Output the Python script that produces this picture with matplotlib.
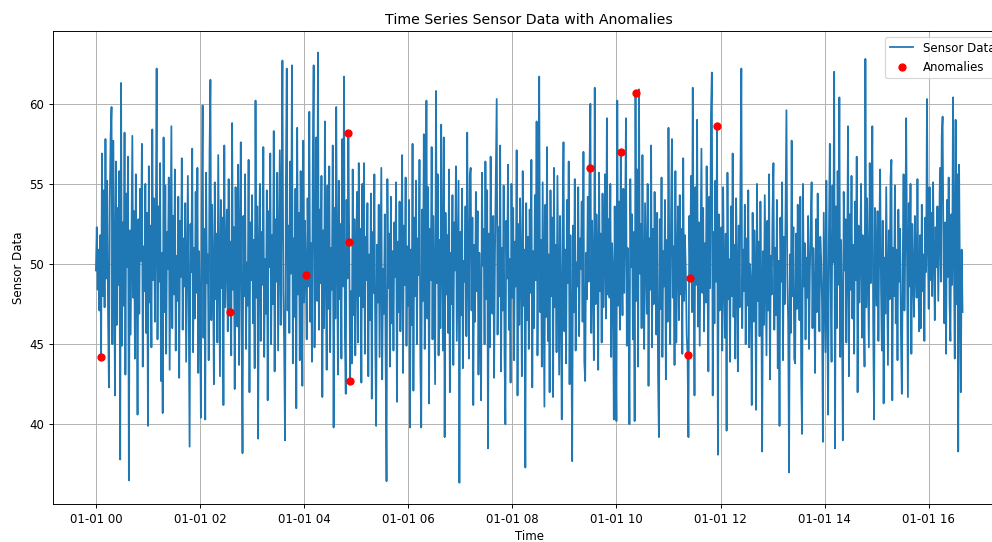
import matplotlib
matplotlib.use("Agg")
import matplotlib.pyplot as plt
import pandas as pd

# one reading per minute
sensor_values = [
    49.6, 52.3, 48.4, 50.9, 47.1, 51.8, 44.2, 56.9, 48.0, 54.6,
    47.3, 57.8, 49.1, 55.2, 46.8, 42.3, 53.9, 58.1, 59.8, 45.0,
    57.7, 50.3, 41.8, 56.4, 46.2, 53.5, 48.7, 55.8, 37.8, 61.3,
    44.9, 52.6, 47.4, 58.2, 43.1, 54.4, 49.8, 56.7, 36.5, 52.1,
    45.6, 51.5, 58.0, 47.9, 53.3, 44.1, 55.6, 49.4, 40.6, 52.8,
    46.9, 54.7, 50.2, 57.5, 43.6, 51.1, 48.3, 55.0, 45.7, 53.2,
    39.9, 56.1, 47.6, 52.4, 44.8, 58.4, 49.0, 54.1, 46.4, 51.7,
    62.2, 45.3, 53.6, 48.9, 56.3, 42.7, 50.7, 40.7, 57.9, 47.0,
    54.9, 44.4, 52.0, 49.7, 55.4, 43.4, 51.3, 58.6, 46.0, 53.0,
    48.1, 55.9, 44.6, 50.5, 47.7, 54.2, 42.9, 52.7, 49.2, 56.6,
    45.9, 51.6, 48.6, 53.8, 43.9, 50.0, 55.5, 47.2, 38.6, 52.5,
    49.5, 57.2, 44.5, 51.0, 46.6, 54.5, 48.2, 56.0, 43.2, 50.8,
    47.5, 40.4, 53.1, 59.9, 45.4, 52.2, 40.3, 55.7, 48.8, 50.6,
    44.0, 57.0, 61.5, 46.5, 53.7, 49.3, 42.5, 55.1, 47.8, 51.9,
    45.1, 56.8, 49.9, 43.0, 54.0, 48.5, 52.9, 41.2, 57.4, 47.3,
    50.4, 53.4, 45.8, 55.3, 47.0, 51.4, 44.3, 58.8, 48.4, 52.3,
    42.2, 54.8, 49.6, 46.1, 56.2, 43.7, 51.2, 57.6, 45.5, 38.2,
    53.0, 48.0, 55.6, 44.7, 50.1, 47.4, 56.5, 42.0, 52.6, 49.0,
    54.3, 46.3, 51.5, 43.5, 60.2, 47.9, 53.6, 39.1, 50.9, 55.0,
    45.2, 52.0, 48.7, 57.3, 44.2, 50.3, 46.9, 54.6, 41.5, 53.3,
    49.8, 56.9, 45.0, 51.8, 47.5, 58.3, 43.3, 52.8, 48.9, 55.7,
    44.6, 50.7, 57.1, 46.2, 53.9, 62.7, 48.3, 44.9, 39.0, 55.2,
    62.2, 47.1, 52.4, 45.7, 56.4, 49.4, 62.4, 43.8, 51.6, 46.7,
    54.7, 41.0, 58.5, 48.1, 53.2, 44.0, 55.8, 50.0, 42.4, 57.7,
    47.6, 52.7, 49.3, 45.3, 54.1, 48.6, 59.5, 46.4, 51.3, 43.9,
    56.6, 62.4, 44.8, 50.8, 57.9, 47.7, 63.2, 45.9, 53.4, 48.8,
    55.5, 41.7, 52.1, 46.0, 58.9, 49.5, 43.4, 54.9, 47.2, 56.1,
    44.5, 51.0, 48.4, 57.4, 39.8, 53.5, 46.6, 59.8, 50.5, 43.1,
    55.2, 47.8, 52.5, 44.1, 57.8, 48.6, 61.7, 45.6, 41.9, 54.0,
    49.1, 58.2, 51.4, 42.7, 48.3, 43.8, 55.9, 46.8, 52.8, 44.3,
    50.2, 54.5, 45.1, 56.3, 48.0, 52.2, 42.6, 55.0, 47.3, 56.3,
    44.4, 51.7, 49.0, 53.8, 43.0, 50.6, 46.5, 54.4, 41.6, 52.0,
    48.2, 55.6, 45.4, 39.9, 51.2, 47.6, 53.7, 44.2, 50.1, 56.0,
    42.8, 49.7, 46.9, 53.1, 44.0, 36.45, 55.3, 48.5, 51.9, 43.6,
    54.2, 46.3, 50.8, 44.6, 52.6, 49.2, 55.1, 41.4, 51.4, 47.0,
    53.9, 45.8, 50.0, 56.8, 43.2, 52.4, 48.7, 55.4, 44.9, 51.1,
    47.4, 54.0, 39.8, 50.9, 46.2, 57.5, 42.1, 52.9, 48.0, 55.2,
    45.0, 51.6, 49.3, 56.5, 43.9, 39.8, 53.4, 47.7, 58.1, 44.7,
    50.3, 60.2, 46.6, 54.8, 41.3, 52.2, 49.0, 57.3, 45.3, 53.0,
    47.9, 42.5, 60.8, 48.8, 55.6, 44.3, 51.5, 46.0, 58.7, 50.4,
    44.6, 57.9, 39.2, 53.2, 48.1, 51.8, 45.7, 55.9, 42.0, 50.7,
    47.5, 54.3, 43.7, 52.6, 49.6, 56.1, 45.2, 50.5, 55.2, 36.35,
    52.0, 46.8, 54.7, 43.5, 50.2, 48.9, 53.6, 45.5, 58.2, 49.4,
    44.1, 55.5, 56.0, 47.1, 52.9, 41.2, 51.2, 46.4, 54.5, 48.3,
    53.3, 43.1, 50.7, 47.6, 41.5, 55.7, 49.9, 52.2, 45.0, 56.4,
    47.8, 54.6, 38.5, 51.9, 44.8, 56.7, 49.5, 46.9, 53.0, 42.9,
    50.6, 55.4, 60.3, 45.6, 52.3, 48.0, 57.4, 43.3, 51.0, 47.1,
    54.9, 44.4, 40.0, 52.7, 49.1, 56.2, 45.9, 50.3, 42.6, 55.0,
    47.9, 53.5, 44.0, 51.4, 48.6, 57.1, 41.8, 52.5, 46.2, 54.1,
    49.7, 43.0, 55.8, 47.4, 50.9, 37.3, 53.8, 46.5, 51.7, 44.7,
    53.4, 48.2, 56.5, 42.3, 50.8, 46.0, 54.3, 49.0, 58.9, 44.3,
    52.1, 61.7, 47.0, 51.5, 43.6, 55.1, 48.5, 41.1, 53.7, 46.7,
    57.3, 45.2, 50.6, 42.0, 54.6, 48.0, 52.9, 41.7, 56.0, 47.3,
    51.2, 44.5, 55.5, 49.3, 43.1, 53.0, 47.7, 40.3, 52.6, 57.6,
    45.8, 50.9, 43.8, 54.0, 48.8, 56.4, 42.5, 51.8, 46.1, 37.7,
    52.4, 47.0, 55.3, 44.6, 50.1, 48.6, 54.8, 45.5, 51.6, 49.7,
    53.9, 46.4, 57.0, 43.9, 42.7, 50.7, 47.8, 54.2, 48.9, 56.0,
    60.0, 45.7, 52.7, 49.2, 44.0, 61.0, 47.5, 53.1, 50.0, 43.4,
    55.7, 48.3, 51.9, 45.1, 54.4, 47.3, 50.6, 55.6, 46.6, 59.1,
    48.1, 52.8, 47.9, 55.0, 44.2, 51.3, 49.5, 40.3, 53.6, 46.3,
    40.2, 60.2, 47.4, 53.9, 45.9, 57.0, 50.4, 46.8, 54.7, 48.2,
    52.3, 59.1, 44.9, 51.0, 47.2, 40.0, 55.3, 49.8, 53.1, 45.3,
    52.0, 40.2, 60.7, 47.7, 55.9, 43.6, 60.9, 49.4, 52.5, 46.0,
    56.8, 48.9, 44.7, 53.8, 50.5, 46.9, 55.0, 42.4, 51.6, 48.4,
    57.4, 44.8, 52.2, 47.5, 54.5, 49.0, 45.6, 53.2, 43.0, 39.2,
    52.8, 47.2, 55.4, 44.2, 50.8, 48.6, 54.0, 42.8, 51.5, 46.4,
    58.5, 49.9, 45.0, 53.3, 57.8, 47.9, 51.1, 43.7, 55.8, 45.1,
    50.2, 53.6, 46.5, 54.3, 48.1, 52.2, 44.4, 56.6, 47.7, 51.8,
    49.5, 45.6, 44.3, 39.2, 53.0, 49.1, 55.5, 47.0, 61.0, 50.0,
    41.8, 54.8, 48.7, 59.0, 46.1, 52.6, 44.9, 51.1, 57.2, 48.2,
    53.5, 45.8, 51.3, 47.6, 56.1, 49.2, 43.3, 54.2, 48.5, 59.4,
    61.95, 41.8, 52.0, 46.3, 55.2, 48.9, 58.6, 38.1, 53.1, 47.1,
    50.7, 52.3, 44.6, 54.8, 49.1, 45.4, 51.9, 39.6, 55.7, 47.8,
    50.3, 43.9, 53.6, 48.0, 56.9, 46.7, 51.2, 44.1, 54.1, 49.7,
    43.3, 52.4, 47.3, 55.4, 62.2, 46.0, 50.9, 48.3, 53.7, 45.0,
    51.6, 47.4, 54.6, 44.8, 50.0, 48.7, 41.2, 53.2, 46.4, 52.1,
    49.6, 40.9, 55.0, 47.7, 51.4, 45.5, 53.9, 48.4, 38.3, 50.8,
    46.2, 54.3, 49.0, 44.3, 52.7, 47.1, 55.6, 42.8, 50.5, 48.1,
    53.4, 56.3, 45.9, 51.0, 46.8, 54.0, 43.5, 50.2, 39.9, 52.9,
    48.9, 55.1, 44.0, 51.7, 47.5, 53.6, 59.6, 49.3, 46.3, 37.0,
    50.6, 45.7, 57.7, 48.0, 52.3, 44.1, 43.8, 51.9, 47.2, 53.7,
    49.8, 46.5, 54.2, 42.9, 39.4, 55.0, 48.6, 51.3, 45.3, 50.4,
    47.9, 53.0, 44.7, 49.5, 52.6, 55.1, 46.0, 51.0, 48.3, 43.2,
    52.8, 47.0, 54.4, 49.2, 45.8, 51.7, 50.3, 47.6, 38.9, 53.2,
    49.0, 44.5, 55.2, 47.4, 40.6, 52.0, 57.5, 48.8, 43.9, 54.9,
    50.1, 62.0, 38.5, 53.6, 46.0, 55.8, 48.7, 60.4, 44.2, 51.5,
    47.0, 39.0, 54.5, 49.6, 52.8, 45.1, 50.3, 58.6, 43.0, 53.1,
    48.4, 55.5, 46.6, 51.2, 44.4, 53.9, 49.0, 56.7, 42.0, 52.4,
    47.6, 50.7, 55.0, 45.4, 51.8, 48.1, 43.6, 62.8, 47.3, 54.1,
    49.7, 44.8, 56.3, 48.8, 52.0, 58.6, 46.1, 40.3, 53.5, 50.2,
    47.4, 53.3, 45.2, 51.6, 55.9, 48.5, 44.6, 52.7, 41.3, 50.4,
    46.9, 54.8, 49.3, 43.7, 52.1, 47.8, 55.4, 56.5, 41.5, 51.0,
    48.0, 54.9, 46.3, 50.9, 44.0, 53.4, 48.9, 52.2, 45.5, 41.9,
    49.8, 55.6, 47.1, 51.4, 59.1, 50.5, 41.7, 53.8, 48.6, 55.0,
    44.4, 52.5, 49.4, 46.7, 53.0, 50.2, 47.9, 55.3, 49.1, 45.8,
    51.8, 46.0, 53.7, 48.3, 50.6, 45.2, 52.9, 49.5, 60.3, 51.3,
    47.2, 54.8, 49.0, 53.2, 48.0, 55.1, 50.4, 46.5, 52.3, 49.8,
    53.6, 47.7, 51.9, 56.0, 48.9, 58.0, 59.2, 50.6, 46.3, 52.6,
    44.4, 54.0, 49.2, 55.4, 47.6, 45.2, 53.1, 48.7, 60.4, 50.8,
    44.1, 59.0, 47.5, 55.6, 38.3, 56.2, 48.4, 42.0, 50.9, 47.0,
]

# flagged points (minutes after start, value)
anomaly_minutes = [6, 154, 242, 291, 292, 293, 569, 605, 622, 682, 685, 716]
anomaly_values = [44.2, 47.0, 49.3, 58.2, 51.4, 42.7, 56.0, 57.0, 60.7, 44.3, 49.1, 58.6]

start = pd.Timestamp("2023-01-01 00:00")
times = pd.date_range(start, periods=len(sensor_values), freq="min")
anomaly_times = start + pd.to_timedelta(anomaly_minutes, unit="min")

dpi = 85
fig = plt.figure(figsize=(992 / dpi, 542 / dpi), dpi=dpi)
ax = fig.add_axes([0.053, 0.0696, 0.961, 0.8732])

ax.plot(times, sensor_values, label="Sensor Data")
ax.scatter(anomaly_times, anomaly_values, color="red", label="Anomalies", zorder=3)

ax.set_title("Time Series Sensor Data with Anomalies")
ax.set_xlabel("Time")
ax.set_ylabel("Sensor Data")
ax.legend(loc="upper right")
ax.grid(True)

fig.savefig("out.png", dpi=dpi)
